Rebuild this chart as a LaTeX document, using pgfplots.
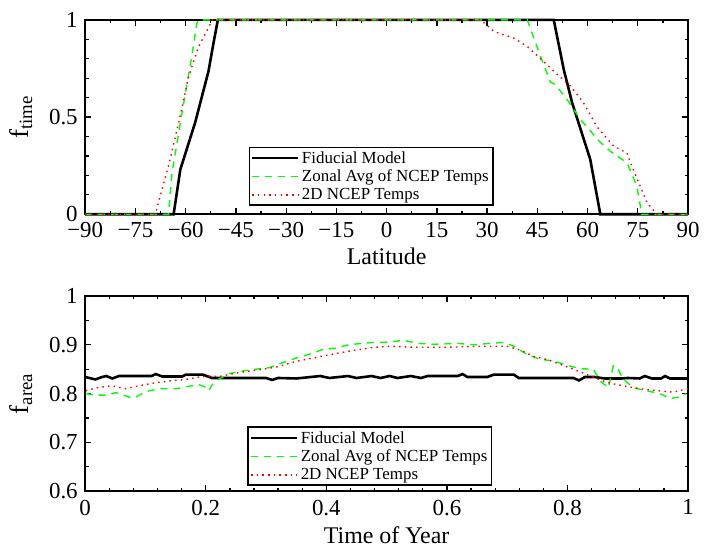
\documentclass[border=0pt]{standalone}
\usepackage{pgfplots}
\pgfplotsset{compat=1.18}
\usepackage{fontspec}
\setmainfont{Liberation Serif}
\begin{document}
\pgfplotsset{
  myax/.style={
    scale only axis, width=605pt, height=195pt,
    axis line style={line width=2pt},
    every tick/.style={line width=1.3pt, black},
    major tick length=6pt, minor tick length=3.5pt,
    tick label style={font=\fontsize{23}{25}\selectfont},
    label style={font=\fontsize{24}{26}\selectfont},
    xticklabel style={yshift=-5pt},
    yticklabel style={xshift=-4pt},
    clip=false,
    legend cell align=left,
    legend style={font=\fontsize{17}{18}\selectfont, draw=black, line width=1.8pt,
      inner sep=1.5pt, row sep=0pt, anchor=south west,
      nodes={inner sep=2.6pt}},
    legend image code/.code={\draw[##1] (0pt,0pt) -- (46pt,0pt);},
  },
  fid/.style={black, line width=2.6pt},
  zon/.style={green, line width=1.4pt, dash pattern=on 7pt off 6pt},
  ncep/.style={red, line width=1.4pt, dash pattern=on 1.5pt off 4.2pt},
}
\begin{tikzpicture}
\path[use as bounding box] (-83pt,-58pt) rectangle (623pt,493pt);
% top axis
\begin{axis}[myax, at={(0pt,278pt)}, anchor=south west,
  xmin=-90, xmax=90, ymin=0, ymax=1,
  xtick={-90,-75,...,90},
  xticklabels={−90,−75,−60,−45,−30,−15,0,15,30,45,60,75,90},
  minor x tick num=1,
  ytick={0,0.5,1}, yticklabels={0,0.5,1},
  minor ytick={0.1,0.2,0.3,0.4,0.6,0.7,0.8,0.9},
  xlabel={Latitude}, ylabel={f\textsubscript{time}},
  xlabel style={yshift=-3pt}, ylabel style={yshift=10pt, font=\fontsize{27}{29}\selectfont},
  legend style={at={(rel axis cs:0.271,0.041)}},
]
\addplot[fid] coordinates {(-90,0) (-63.6,0) (-61.6,0.23) (-57.2,0.47) (-53.2,0.735) (-51.7,0.88) (-50.4,1) (49.9,1) (52.9,0.744) (55.4,0.573) (60.8,0.282) (63.8,0) (90,0)};
\addlegendentry{Fiducial Model}
\addplot[zon] coordinates {(-90,0) (-65.1,0) (-64.1,0.21) (-61.1,0.52) (-58.2,0.81) (-56.7,0.98) (-56.3,1) (42.0,1) (46.0,0.81) (48.9,0.68) (50.4,0.667) (53.9,0.59) (57.9,0.487) (63.8,0.37) (67.8,0.31) (68.8,0.30) (71.8,0.265) (74.7,0.145) (76.2,0) (90,0)};
\addlegendentry{Zonal Avg of NCEP Temps}
\addplot[ncep] coordinates {(-90,0) (-69.1,0) (-65.1,0.25) (-62.1,0.47) (-59.1,0.71) (-56.2,0.86) (-53.2,0.96) (-52,1) (28.1,1) (32.1,0.94) (38.0,0.906) (42.0,0.863) (46.0,0.80) (50.9,0.72) (54.9,0.66) (58.9,0.57) (62.8,0.45) (67.8,0.35) (71.8,0.315) (72.8,0.265) (75.7,0.145) (77.7,0.06) (80.7,0) (90,0)};
\addlegendentry{2D NCEP Temps}
\end{axis}
% bottom axis
\begin{axis}[myax, at={(0pt,0pt)}, anchor=south west, height=196pt,
  xmin=0, xmax=1, ymin=0.6, ymax=1,
  xtick={0,0.2,0.4,0.6,0.8,1}, xticklabels={0,0.2,0.4,0.6,0.8,1},
  minor x tick num=4,
  ytick={0.6,0.7,0.8,0.9,1}, yticklabels={0.6,0.7,0.8,0.9,1},
  minor y tick num=1,
  xlabel={Time of Year}, ylabel={f\textsubscript{area}},
  xlabel style={yshift=-5pt}, ylabel style={yshift=10pt, font=\fontsize{27}{29}\selectfont},
  legend style={at={(rel axis cs:0.269,0.026)}},
]
\addplot[fid] coordinates {(0,0.834) (0.017,0.829) (0.028,0.834) (0.035,0.836) (0.045,0.831) (0.056,0.836) (0.11,0.836) (0.117,0.840) (0.128,0.835) (0.161,0.835) (0.167,0.839) (0.195,0.839) (0.21,0.832) (0.30,0.832) (0.31,0.828) (0.32,0.832) (0.35,0.831) (0.39,0.836) (0.405,0.832) (0.436,0.836) (0.45,0.832) (0.475,0.836) (0.49,0.832) (0.505,0.836) (0.518,0.832) (0.54,0.836) (0.557,0.832) (0.568,0.836) (0.618,0.836) (0.626,0.840) (0.634,0.834) (0.667,0.834) (0.678,0.839) (0.711,0.839) (0.719,0.832) (0.81,0.832) (0.819,0.827) (0.829,0.834) (0.845,0.834) (0.862,0.831) (0.89,0.831) (0.90,0.832) (0.92,0.831) (0.928,0.836) (0.94,0.831) (0.955,0.831) (0.962,0.836) (0.97,0.831) (1,0.831)};
\addlegendentry{Fiducial Model}
\addplot[zon] coordinates {(0.001,0.80) (0.017,0.797) (0.039,0.797) (0.05,0.802) (0.058,0.80) (0.072,0.793) (0.083,0.792) (0.1,0.804) (0.122,0.81) (0.15,0.81) (0.172,0.815) (0.189,0.818) (0.198,0.814) (0.205,0.806) (0.213,0.823) (0.222,0.83) (0.239,0.841) (0.26,0.846) (0.283,0.85) (0.305,0.853) (0.327,0.863) (0.35,0.873) (0.37,0.88) (0.393,0.89) (0.415,0.893) (0.437,0.9) (0.46,0.903) (0.48,0.905) (0.496,0.905) (0.529,0.909) (0.551,0.903) (0.579,0.901) (0.617,0.903) (0.645,0.9) (0.672,0.903) (0.694,0.905) (0.711,0.897) (0.733,0.88) (0.755,0.87) (0.777,0.867) (0.799,0.858) (0.821,0.851) (0.843,0.85) (0.854,0.826) (0.868,0.812) (0.876,0.857) (0.884,0.85) (0.892,0.83) (0.909,0.812) (0.931,0.806) (0.953,0.80) (0.97,0.79) (0.986,0.793) (0.997,0.80)};
\addlegendentry{Zonal Avg of NCEP Temps}
\addplot[ncep] coordinates {(0.001,0.806) (0.023,0.813) (0.045,0.816) (0.067,0.81) (0.089,0.816) (0.111,0.821) (0.139,0.826) (0.167,0.829) (0.189,0.834) (0.205,0.836) (0.222,0.835) (0.25,0.842) (0.283,0.848) (0.316,0.854) (0.35,0.866) (0.382,0.874) (0.415,0.882) (0.448,0.889) (0.48,0.895) (0.508,0.897) (0.546,0.895) (0.601,0.895) (0.656,0.897) (0.70,0.897) (0.722,0.889) (0.744,0.876) (0.766,0.87) (0.788,0.86) (0.81,0.85) (0.838,0.836) (0.865,0.823) (0.892,0.816) (0.92,0.81) (0.948,0.806) (0.975,0.803) (1.0,0.81)};
\addlegendentry{2D NCEP Temps}
\end{axis}
\end{tikzpicture}
\end{document}
